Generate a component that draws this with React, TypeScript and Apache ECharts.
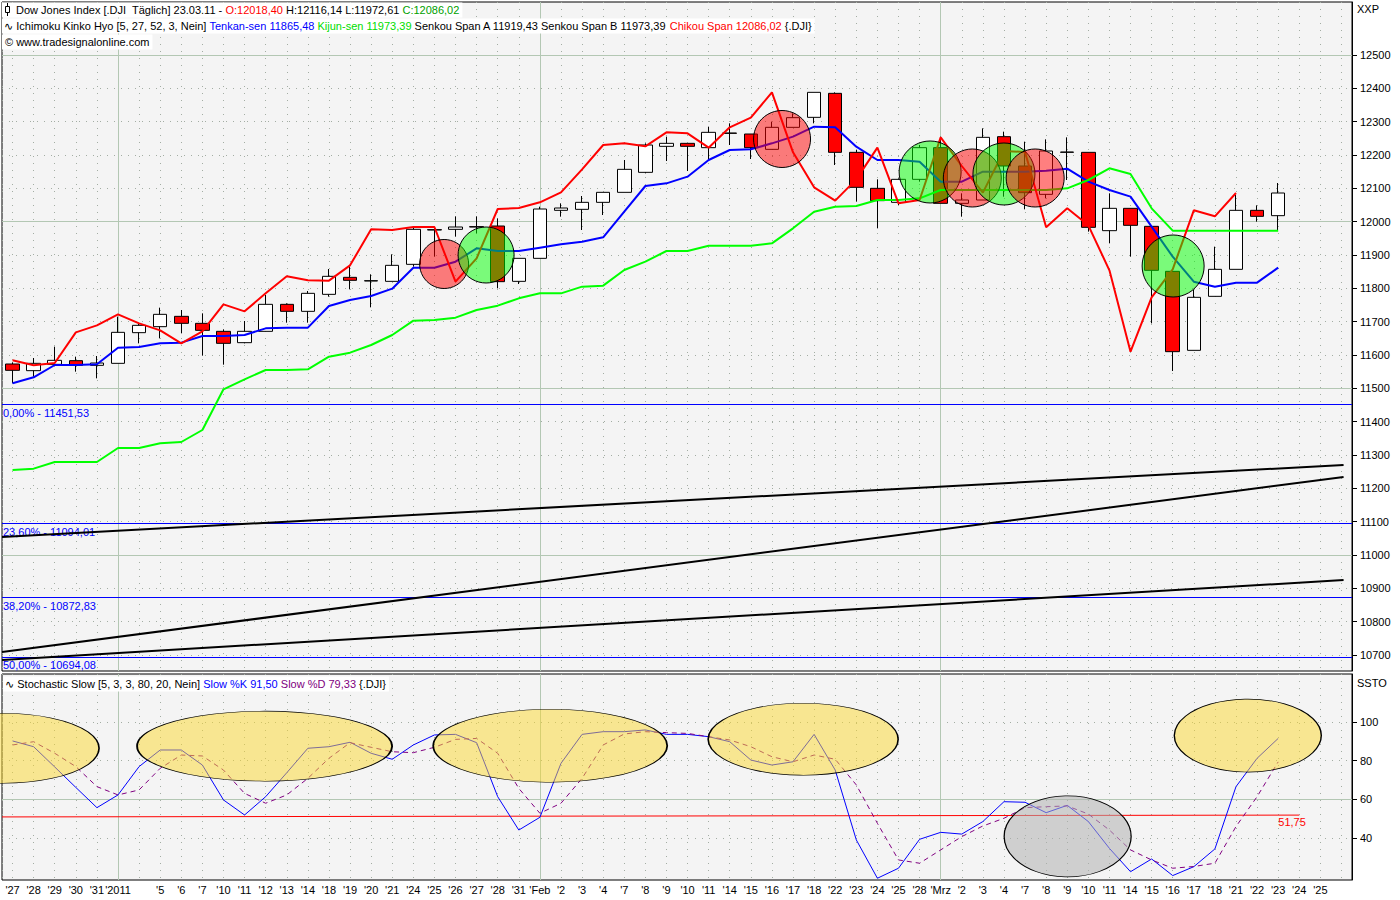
import React, { useEffect, useRef } from 'react';
import * as echarts from 'echarts';

const FONT = '"Liberation Sans", Arial, sans-serif';
const SYM = '"DejaVu Sans", sans-serif';
const DOT = '#a3ada3';
const SOLID = '#b3c7b3';

const dayLabels = ["'27", "'28", "'29", "'30", "'31", "'2011", "", "'5", "'6", "'7", "'10", "'11", "'12", "'13", "'14", "'18", "'19", "'20", "'21", "'24", "'25", "'26", "'27", "'28", "'31", "'Feb", "'2", "'3", "'4", "'7", "'8", "'9", "'10", "'11", "'14", "'15", "'16", "'17", "'18", "'22", "'23", "'24", "'25", "'28", "'Mrz", "'2", "'3", "'4", "'7", "'8", "'9", "'10", "'11", "'14", "'15", "'16", "'17", "'18", "'21", "'22", "'23", "'24", "'25", ""];

const opens = [11573, 11553, 11572, 11583, 11569, 11575, 11667, 11685, 11716, 11695, 11671, 11637, 11671, 11752, 11731, 11782, 11833, 11822, 11821, 11872, 11976, 11977, 11985, 11987, 11821, 11890, 12034, 12037, 12058, 12088, 12148, 12226, 12235, 12222, 12266, 12263, 12217, 12283, 12313, 12385, 12208, 12100, 12058, 12127, 12222, 12055, 12065, 12255, 12167, 12082, 12208, 12208, 11973, 12040, 11986, 11851, 11614, 11776, 11857, 12034, 12018];
const closes = [11554, 11575, 11584, 11569, 11576, 11668, 11689, 11722, 11695, 11674, 11635, 11671, 11752, 11731, 11785, 11836, 11824, 11823, 11869, 11977, 11975, 11984, 11984, 11820, 11890, 12038, 12041, 12058, 12088, 12157, 12230, 12235, 12226, 12268, 12265, 12222, 12283, 12312, 12388, 12208, 12103, 12063, 12127, 12222, 12055, 12065, 12253, 12167, 12087, 12212, 12209, 11983, 12040, 11989, 11854, 11610, 11773, 11857, 12034, 12016, 12086];
const lows = [11515, 11535, 11568, 11550, 11530, 11575, 11635, 11650, 11665, 11598, 11571, 11635, 11671, 11697, 11697, 11775, 11797, 11743, 11821, 11865, 11895, 11955, 11965, 11800, 11813, 11890, 12015, 11975, 12020, 12088, 12145, 12182, 12152, 12185, 12230, 12188, 12217, 12283, 12295, 12170, 12060, 11980, 12050, 12120, 12055, 12015, 12065, 12075, 12037, 12070, 12125, 11970, 11935, 11895, 11695, 11552, 11614, 11776, 11857, 12000, 11973];
const highs = [11578, 11591, 11625, 11595, 11597, 11715, 11695, 11742, 11735, 11725, 11677, 11702, 11780, 11755, 11792, 11858, 11865, 11842, 11902, 11985, 11980, 12016, 12016, 12010, 11890, 12045, 12055, 12077, 12088, 12185, 12235, 12255, 12235, 12285, 12295, 12263, 12300, 12325, 12388, 12388, 12215, 12127, 12130, 12230, 12255, 12085, 12280, 12270, 12240, 12247, 12253, 12208, 12085, 12040, 11986, 11851, 11795, 11925, 12080, 12049, 12116];

const tenkan = [11515, 11533, 11570, 11570, 11572, 11622, 11624, 11635, 11637, 11657, 11657, 11660, 11680, 11682, 11682, 11747, 11765, 11777, 11799, 11862, 11862, 11880, 11920, 11912, 11912, 11922, 11932, 11940, 11953, 12030, 12107, 12115, 12135, 12185, 12215, 12217, 12235, 12255, 12285, 12283, 12225, 12185, 12185, 12180, 12120, 12120, 12150, 12150, 12150, 12153, 12159, 12120, 12095, 12075, 11985, 11895, 11820, 11805, 11817, 11817, 11862];
const kijun = [11255, 11259, 11279, 11279, 11279, 11321, 11321, 11335, 11339, 11375, 11497, 11527, 11555, 11555, 11557, 11595, 11607, 11630, 11660, 11703, 11705, 11712, 11735, 11748, 11770, 11785, 11785, 11805, 11808, 11855, 11880, 11912, 11912, 11928, 11928, 11928, 11935, 11980, 12030, 12045, 12047, 12065, 12065, 12070, 12095, 12095, 12095, 12095, 12095, 12095, 12100, 12125, 12160, 12143, 12040, 11973, 11973, 11973, 11973, 11973, 11973];
const chikou = [11584, 11569, 11576, 11668, 11689, 11722, 11695, 11674, 11635, 11671, 11752, 11731, 11785, 11836, 11824, 11823, 11869, 11977, 11975, 11984, 11984, 11820, 11890, 12038, 12041, 12058, 12088, 12157, 12230, 12235, 12226, 12268, 12265, 12222, 12283, 12312, 12388, 12208, 12103, 12063, 12127, 12222, 12055, 12065, 12253, 12167, 12087, 12212, 12209, 11983, 12040, 11989, 11854, 11610, 11773, 11857, 12034, 12016, 12086];

const slowK = [90.2, 87.2, 76.7, 66.1, 55.6, 62.2, 76.9, 85.5, 85.5, 77.7, 59.6, 51.8, 61.3, 73.7, 86.4, 87.2, 89.5, 83.8, 80.7, 88.1, 93.3, 93.6, 89.3, 61.3, 44.0, 50.6, 78.6, 93.6, 95.0, 95.0, 95.9, 93.6, 93.6, 92.4, 89.8, 80.3, 77.7, 79.4, 93.6, 75.1, 38.9, 19.0, 24.2, 39.2, 42.8, 41.9, 48.4, 58.7, 58.4, 53.0, 56.8, 48.4, 34.5, 22.4, 29.0, 20.4, 25.0, 34.2, 66.5, 81.2, 91.5];
const slowD = [88.1, 89.8, 83.8, 76.9, 66.5, 62.2, 64.8, 76.0, 82.9, 82.4, 75.1, 63.0, 57.9, 62.2, 70.8, 81.2, 89.3, 86.9, 84.6, 84.1, 86.9, 91.0, 91.5, 83.8, 65.6, 52.7, 57.9, 70.8, 88.1, 93.8, 95.0, 94.5, 94.1, 92.4, 90.7, 87.2, 82.0, 79.4, 82.9, 80.7, 67.4, 47.5, 28.5, 26.8, 33.7, 40.6, 46.1, 50.1, 55.6, 56.1, 56.5, 52.3, 44.0, 33.7, 28.5, 24.2, 25.1, 26.8, 45.8, 61.3, 79.33];

const priceTicks = [10700, 10800, 10900, 11000, 11100, 11200, 11300, 11400, 11500, 11600, 11700, 11800, 11900, 12000, 12100, 12200, 12300, 12400, 12500];
const stochTicks = [40, 60, 80, 100];
const majorPriceLevels = [11000, 11500, 12000, 12500];
const stochMajor = [60];
const monthStarts = [5, 25, 44];

const fibPct = [0, 23.6, 38.2, 50];
const fibLevels = [11451.53, 11094.01, 10872.83, 10694.08];

const trendX = [-0.5, 63.1];
const trendA = [11054, 11270];
const trendB = [10709, 11234];
const trendC = [10685, 10925];

const circleX = [20.46, 22.45, 36.48, 43.5, 45.5, 47.0, 48.48, 55.02];
const circleP = [11873, 11900, 12248, 12149, 12131, 12143, 12131, 11867];
const circleD = [49, 56, 57, 62, 58, 62, 58, 62];
const circleKind = ['r', 'g', 'r', 'g', 'r', 'g', 'r', 'g'];

const ovalX = [-0.45, 11.95, 25.49, 37.48, 58.56, 50.02];
const ovalV = [86.4, 87.5, 87.7, 91.1, 93.0, 40.7];
const ovalW = [192, 255, 234, 190, 147, 127];
const ovalH = [70, 70, 73, 72, 73, 81];
const ovalKind = ['y', 'y', 'y', 'y', 'y', 'n'];

const levelX = [-0.5, 61];
const levelV = [50.8, 51.75];

const fmt = (v: number) => v.toFixed(2).replace('.', ',');

const ohlc = opens.map((o, i) => [o, closes[i], lows[i], highs[i]]);

const rs = (fill: string, fam = FONT) => ({ fill, fontFamily: fam, fontSize: 11 });
const rich = {
  k: rs('#000000'),
  r: rs('#ff0000'),
  b: rs('#0000ff'),
  g: rs('#00dd00'),
  dg: rs('#00a000'),
  p: rs('#800080'),
  s: rs('#000000', SYM),
};

const hiddenValueX = (gridIndex: number) => ({
  type: 'value',
  gridIndex,
  min: -0.5,
  max: 63.5,
  minInterval: 1,
  maxInterval: 1,
  position: 'top',
  axisLine: { show: false, onZero: false },
  axisTick: { show: false },
  axisLabel: { show: false },
  splitLine: { show: true, lineStyle: { color: DOT, width: 1, type: [1, 6] } },
});

const option: any = {
  animation: false,
  backgroundColor: '#ffffff',
  textStyle: { fontFamily: FONT, fontSize: 11 },
  grid: [
    { left: 2, top: 2, width: 1350, height: 669, show: true, backgroundColor: '#f4f4f4', borderColor: '#000', borderWidth: 1 },
    { left: 2, top: 674, width: 1350, height: 206, show: true, backgroundColor: '#f4f4f4', borderColor: '#000', borderWidth: 1 },
  ],
  xAxis: [
    { type: 'category', gridIndex: 0, data: dayLabels, boundaryGap: true, axisLine: { show: false, onZero: false }, axisTick: { show: false }, axisLabel: { show: false }, splitLine: { show: false } },
    hiddenValueX(0),
    {
      type: 'category', gridIndex: 1, data: dayLabels, boundaryGap: true, position: 'bottom',
      axisLine: { show: false, onZero: false }, axisTick: { show: false }, splitLine: { show: false },
      axisLabel: { interval: 0, color: '#000', fontSize: 11, fontFamily: FONT, margin: 4, hideOverlap: false },
    },
    hiddenValueX(1),
  ],
  yAxis: [
    {
      type: 'value', gridIndex: 0, position: 'right', min: 10652, max: 12659, minInterval: 100, maxInterval: 100, splitNumber: 20,
      axisLine: { show: true, onZero: false, lineStyle: { color: '#000', width: 1 } },
      axisTick: { show: true, length: 5, lineStyle: { color: '#000' }, customValues: priceTicks },
      axisLabel: { color: '#000', fontSize: 11, fontFamily: FONT, margin: 8, customValues: priceTicks, formatter: (v: number) => String(v) },
      splitLine: { show: true, lineStyle: { color: DOT, width: 1, type: [1, 6] } },
    },
    {
      type: 'value', gridIndex: 1, position: 'right', min: 18.1, max: 124.9, minInterval: 20, maxInterval: 20,
      axisLine: { show: true, onZero: false, lineStyle: { color: '#000', width: 1 } },
      axisTick: { show: true, length: 5, lineStyle: { color: '#000' }, customValues: stochTicks },
      axisLabel: { color: '#000', fontSize: 11, fontFamily: FONT, margin: 8, customValues: stochTicks, formatter: (v: number) => String(v) },
      splitLine: { show: true, lineStyle: { color: DOT, width: 1, type: [1, 6] } },
    },
  ],
  series: [
    {
      name: 'trendA', type: 'line', xAxisIndex: 1, yAxisIndex: 0, symbol: 'none', z: 2, silent: true,
      lineStyle: { color: '#000', width: 2 },
      data: trendX.map((x, i) => [x, trendA[i]]),
      markLine: {
        silent: true, symbol: 'none', z: 1, animation: false,
        label: { show: false },
        lineStyle: { color: SOLID, width: 1, type: 'solid' },
        emphasis: { disabled: true },
        data: [...majorPriceLevels.map((v) => ({ yAxis: v })), ...monthStarts.map((v) => ({ xAxis: v }))],
      },
    },
    {
      name: 'trendB', type: 'line', xAxisIndex: 1, yAxisIndex: 0, symbol: 'none', z: 2, silent: true,
      lineStyle: { color: '#000', width: 2 },
      data: trendX.map((x, i) => [x, trendB[i]]),
      markLine: {
        silent: true, symbol: 'none', z: 2, animation: false,
        lineStyle: { color: '#0000ff', width: 1, type: 'solid' },
        emphasis: { disabled: true },
        label: { show: true, position: 'insideStartBottom', color: '#0000ff', fontSize: 11, fontFamily: FONT, distance: [1, 3] },
        data: fibLevels.map((v, i) => ({ yAxis: v, label: { formatter: `${fmt(fibPct[i])}% - ${fmt(v)}` } })),
      },
    },
    {
      name: 'trendC', type: 'line', xAxisIndex: 1, yAxisIndex: 0, symbol: 'none', z: 2, silent: true,
      lineStyle: { color: '#000', width: 2 },
      data: trendX.map((x, i) => [x, trendC[i]]),
    },
    {
      name: 'DJI', type: 'candlestick', xAxisIndex: 0, yAxisIndex: 0, z: 3, silent: true, barWidth: 14,
      itemStyle: { color: '#ffffff', color0: '#ff0000', borderColor: '#000', borderColor0: '#000', borderColorDoji: '#000', borderWidth: 1 },
      data: ohlc,
    },
    { name: 'Tenkan', type: 'line', xAxisIndex: 0, yAxisIndex: 0, symbol: 'none', z: 4, silent: true, lineStyle: { color: '#0000ff', width: 2 }, data: tenkan },
    { name: 'Kijun', type: 'line', xAxisIndex: 0, yAxisIndex: 0, symbol: 'none', z: 4, silent: true, lineStyle: { color: '#00ff00', width: 2 }, data: kijun },
    { name: 'Chikou', type: 'line', xAxisIndex: 0, yAxisIndex: 0, symbol: 'none', z: 4, silent: true, lineStyle: { color: '#ff0000', width: 2 }, data: chikou },
    {
      name: 'circles', type: 'scatter', xAxisIndex: 1, yAxisIndex: 0, z: 6, silent: true, symbol: 'circle',
      itemStyle: { borderColor: '#000', borderWidth: 1, opacity: 1 },
      data: circleX.map((x, i) => ({
        value: [x, circleP[i]],
        symbolSize: circleD[i],
        itemStyle: { color: circleKind[i] === 'g' ? 'rgba(0,255,0,0.5)' : 'rgba(255,0,0,0.5)' },
      })),
    },
    // Stochastic pane
    {
      name: 'stochGrid', type: 'line', xAxisIndex: 3, yAxisIndex: 1, symbol: 'none', z: 3, silent: true,
      lineStyle: { color: '#ff0000', width: 1 },
      data: levelX.map((x, i) => [x, levelV[i]]),
      endLabel: {
        show: true, color: '#ff0000', fontSize: 11, fontFamily: FONT, offset: [-29, 7],
        formatter: (p: any) => fmt(p.value[1]),
      },
      markLine: {
        silent: true, symbol: 'none', z: 1, animation: false,
        label: { show: false },
        lineStyle: { color: SOLID, width: 1, type: 'solid' },
        emphasis: { disabled: true },
        data: [...stochMajor.map((v) => ({ yAxis: v })), ...monthStarts.map((v) => ({ xAxis: v }))],
      },
    },
    { name: 'Slow %K', type: 'line', xAxisIndex: 2, yAxisIndex: 1, symbol: 'none', z: 4, silent: true, lineStyle: { color: '#0000ff', width: 1 }, data: slowK },
    { name: 'Slow %D', type: 'line', xAxisIndex: 2, yAxisIndex: 1, symbol: 'none', z: 4, silent: true, lineStyle: { color: '#800080', width: 1, type: [5, 4] }, data: slowD },
    {
      name: 'ovals', type: 'scatter', xAxisIndex: 3, yAxisIndex: 1, z: 6, silent: true, symbol: 'circle', clip: false,
      itemStyle: { borderColor: '#000', borderWidth: 1, opacity: 1 },
      data: ovalX.map((x, i) => ({
        value: [x, ovalV[i]],
        symbolSize: [ovalW[i], ovalH[i]],
        itemStyle: { color: ovalKind[i] === 'y' ? 'rgba(252,216,46,0.5)' : 'rgba(176,176,176,0.55)' },
      })),
    },
  ],
  graphic: [
    {
      type: 'text', x: 2, y: 10, z: 100, silent: true,
      style: {
        text: '{k|Dow Jones Index [.DJI  Täglich] 23.03.11 - }{r|O:12018,40}{k| H:12116,14 L:11972,61 }{dg|C:12086,02}',
        rich, fill: '#000', fontFamily: FONT, fontSize: 11, verticalAlign: 'middle', backgroundColor: '#ffffff', padding: [2, 3, 2, 14],
      },
    },
    { type: 'line', z: 101, silent: true, shape: { x1: 7.5, y1: 3, x2: 7.5, y2: 16 }, style: { stroke: '#000', lineWidth: 1 } },
    { type: 'rect', z: 102, silent: true, shape: { x: 5.5, y: 6.5, width: 4, height: 6 }, style: { fill: '#fff', stroke: '#000', lineWidth: 1 } },
    {
      type: 'text', x: 2, y: 26, z: 100, silent: true,
      style: {
        text: '{s|∿}{k| Ichimoku Kinko Hyo [5, 27, 52, 3, Nein] }{b|Tenkan-sen 11865,48}{k| }{g|Kijun-sen 11973,39}{k| Senkou Span A 11919,43 Senkou Span B 11973,39 }{r|Chikou Span 12086,02} {.DJI}',
        rich, fill: '#000', fontFamily: FONT, fontSize: 11, verticalAlign: 'middle', backgroundColor: '#ffffff', padding: [2, 3, 2, 2],
      },
    },
    {
      type: 'text', x: 2, y: 42, z: 100, silent: true,
      style: {
        text: '© www.tradesignalonline.com',
        fill: '#000', fontFamily: FONT, fontSize: 11, verticalAlign: 'middle', backgroundColor: '#ffffff', padding: [2, 3, 2, 3],
      },
    },
    {
      type: 'text', x: 3, y: 684, z: 100, silent: true,
      style: {
        text: '{s|∿}{k| Stochastic Slow [5, 3, 3, 80, 20, Nein] }{b|Slow %K 91,50}{k| }{p|Slow %D 79,33} {.DJI}',
        rich, fill: '#000', fontFamily: FONT, fontSize: 11, verticalAlign: 'middle', backgroundColor: '#ffffff', padding: [2, 3, 2, 2],
      },
    },
    { type: 'text', x: 1357, y: 9, z: 100, silent: true, style: { text: 'XXP', fill: '#000', fontFamily: FONT, fontSize: 11, verticalAlign: 'middle' } },
    { type: 'text', x: 1357, y: 683, z: 100, silent: true, style: { text: 'SSTO', fill: '#000', fontFamily: FONT, fontSize: 11, verticalAlign: 'middle' } },
  ],
};

export default function App() {
  const ref = useRef<HTMLDivElement>(null);
  useEffect(() => {
    if (!ref.current) return;
    const chart = echarts.init(ref.current, null, { renderer: 'svg', width: 1400, height: 900 });
    chart.setOption(option);
    return () => chart.dispose();
  }, []);
  return (
    <div
      ref={ref}
      style={{ position: 'absolute', left: 0, top: 0, width: 1400, height: 900, background: '#ffffff' }}
    />
  );
}
